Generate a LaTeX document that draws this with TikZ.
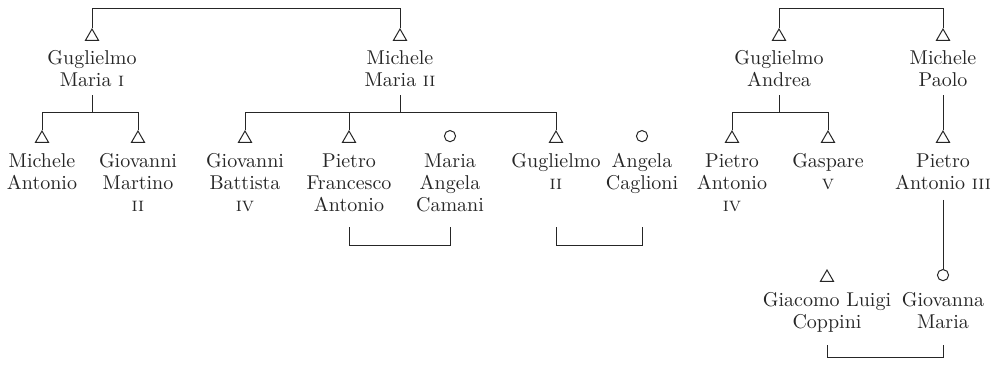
\documentclass[tikz,border=0pt]{standalone}
\usetikzlibrary{shapes.geometric}

\tikzset{
  male/.style={regular polygon, regular polygon sides=3, draw, inner sep=0pt, minimum size=7.6pt, anchor=north},
  female/.style={circle, draw, inner sep=0pt, minimum size=5.6pt, anchor=north},
  person/.style={align=center, inner sep=0pt, anchor=north, font=\fontsize{10}{11}\selectfont}
}

\begin{document}
\begin{tikzpicture}[x=0.5pt, y=-0.5pt, line width=0.5pt, color=black!85]
    \useasboundingbox (0,0) rectangle (996,366);

    % First generation
    \foreach \x/\id/\who in {92/gm/{Guglielmo\\Maria \textsc{i}}, 400/mm/{Michele\\Maria \textsc{ii}}, 779/ga/{Guglielmo\\Andrea}, 943/mp/{Michele\\Paolo}} {
        \node[male] (\id) at (\x,28) {};
        \node[person] (\id-t) at (\x,50) {\who};
    }

    % Second generation
    \foreach \x/\id/\sex/\who in {42/ma/male/{Michele\\Antonio}, 138/gv/male/{Giovanni\\Martino\\\textsc{ii}}, 245/gb/male/{Giovanni\\Battista\\\textsc{iv}}, 349/pf/male/{Pietro\\Francesco\\Antonio}, 450/mc/female/{Maria\\Angela\\Camani}, 556/gl/male/{Guglielmo\\\textsc{ii}}, 642/ac/female/{Angela\\Caglioni}, 732/pa/male/{Pietro\\Antonio\\\textsc{iv}}, 828/gs/male/{Gaspare\\\textsc{v}}, 943/pt/male/{Pietro\\Antonio \textsc{iii}}} {
        \node[\sex] (\id) at (\x,130) {};
        \node[person] (\id-t) at (\x,153) {\who};
    }

    % Third generation
    \foreach \x/\id/\sex/\who in {827/gc/male/{Giacomo Luigi\\Coppini}, 943/gi/female/{Giovanna\\Maria}} {
        \node[\sex] (\id) at (\x,269) {};
        \node[person] (\id-t) at (\x,292) {\who};
    }

    % Siblings
    \draw (gm.north) -- ++(0,-20) -| (mm.north);
    \draw (ga.north) -- ++(0,-20) -| (mp.north);

    % Descent
    \draw (ma.north) -- ++(0,-18) coordinate (b1) -| (gv.north);
    \draw ([yshift=-4pt]gm-t.south) -- (gm-t.south |- b1);
    \draw (gb.north) -- ++(0,-18) coordinate (b2) -| (gl.north);
    \draw (pf.north) -- (pf.north |- b2);
    \draw ([yshift=-4pt]mm-t.south) -- (mm-t.south |- b2);
    \draw (pa.north) -- ++(0,-18) coordinate (b3) -| (gs.north);
    \draw ([yshift=-4pt]ga-t.south) -- (ga-t.south |- b3);
    \draw ([yshift=-4pt]mp-t.south) -- (pt.north);
    \draw ([yshift=-5pt]pt-t.south) -- (gi.north);

    % Marriages
    \coordinate (wed) at (0,227);
    \draw (pf |- wed) -- ++(0,18) -| (mc |- wed);
    \draw (gl |- wed) -- ++(0,18) -| (ac |- wed);
    \coordinate (wed2) at (0,345);
    \draw (gc |- wed2) -- ++(0,12) -| (gi |- wed2);
\end{tikzpicture}
\end{document}
